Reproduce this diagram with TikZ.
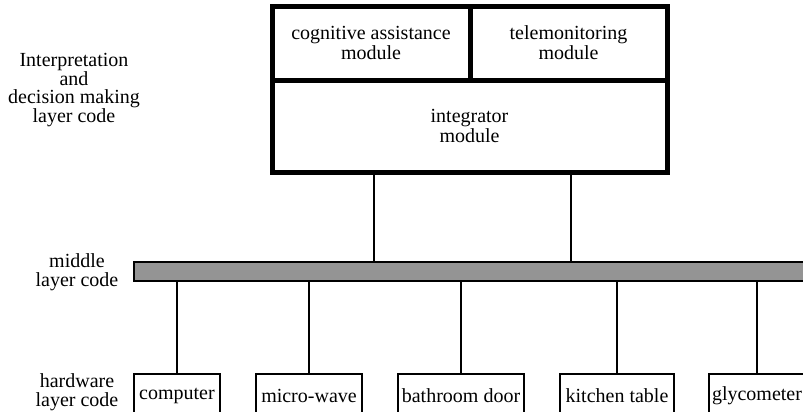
\documentclass[tikz,border=0pt]{standalone}
\usepackage{fontspec}
\setmainfont{Liberation Serif}[Ligatures=TeX]
\usepackage{tikz}
\tikzset{
	module/.style={draw,line width=2.5pt,inner sep=0pt,align=center,font=\rmfamily\fontsize{10}{10}\selectfont},
	device/.style={draw,line width=0.8pt,inner sep=0pt,minimum height=22pt,font=\rmfamily\fontsize{10}{12}\selectfont},
	layer/.style={align=center,font=\rmfamily\fontsize{10}{9.3}\selectfont},
	wire/.style={line width=0.7pt}
}

\begin{document}
\begin{tikzpicture}[x=0.5pt,y=-0.5pt]
\useasboundingbox (0,0) rectangle (803,412);
% decision making layer
\node[module,minimum width=197.5pt,minimum height=46pt] (int) at (469.5,126) {integrator\\module};
\node[module,minimum width=99pt,minimum height=37pt] (ca) at (371,43) {cognitive assistance\\module};
\node[module,minimum width=98.5pt,minimum height=37pt] (tm) at (568.5,43) {telemonitoring\\module};
%
% middle layer bar, runs off the right edge
\node[draw,fill=black!42,line width=0.6pt,inner sep=0pt,minimum width=343pt,minimum height=9.5pt] (bar) at (477,271.5) {};
\coordinate (u1) at (374,0);
\coordinate (u2) at (571,0);
\draw[wire] (u1 |- int.south) to (u1 |- bar.north);
\draw[wire] (u2 |- int.south) to (u2 |- bar.north);
%
% hardware layer
\node[device,minimum width=43pt] (comp) at (177,396) {computer};
\node[device,minimum width=53pt] (micro) at (309,396) {micro-wave};
\node[device,minimum width=63pt] (bath) at (461,396) {bathroom door};
\node[device,minimum width=57pt] (kit) at (617,396) {kitchen table};
\node[device,minimum width=48pt] (gly) at (757,396) {glycometer};
\foreach \d in {comp,micro,bath,kit,gly}
	\draw[wire] (\d.north) to (\d.north |- bar.south);
%
% layer names
\node[layer] (l1) at (74,90) {Interpretation\\and\\decision making\\layer code};
\node[layer] (l2) at (77,272) {middle\\layer code};
\node[layer] (l3) at (77,392) {hardware\\layer code};
\end{tikzpicture}
\end{document}
